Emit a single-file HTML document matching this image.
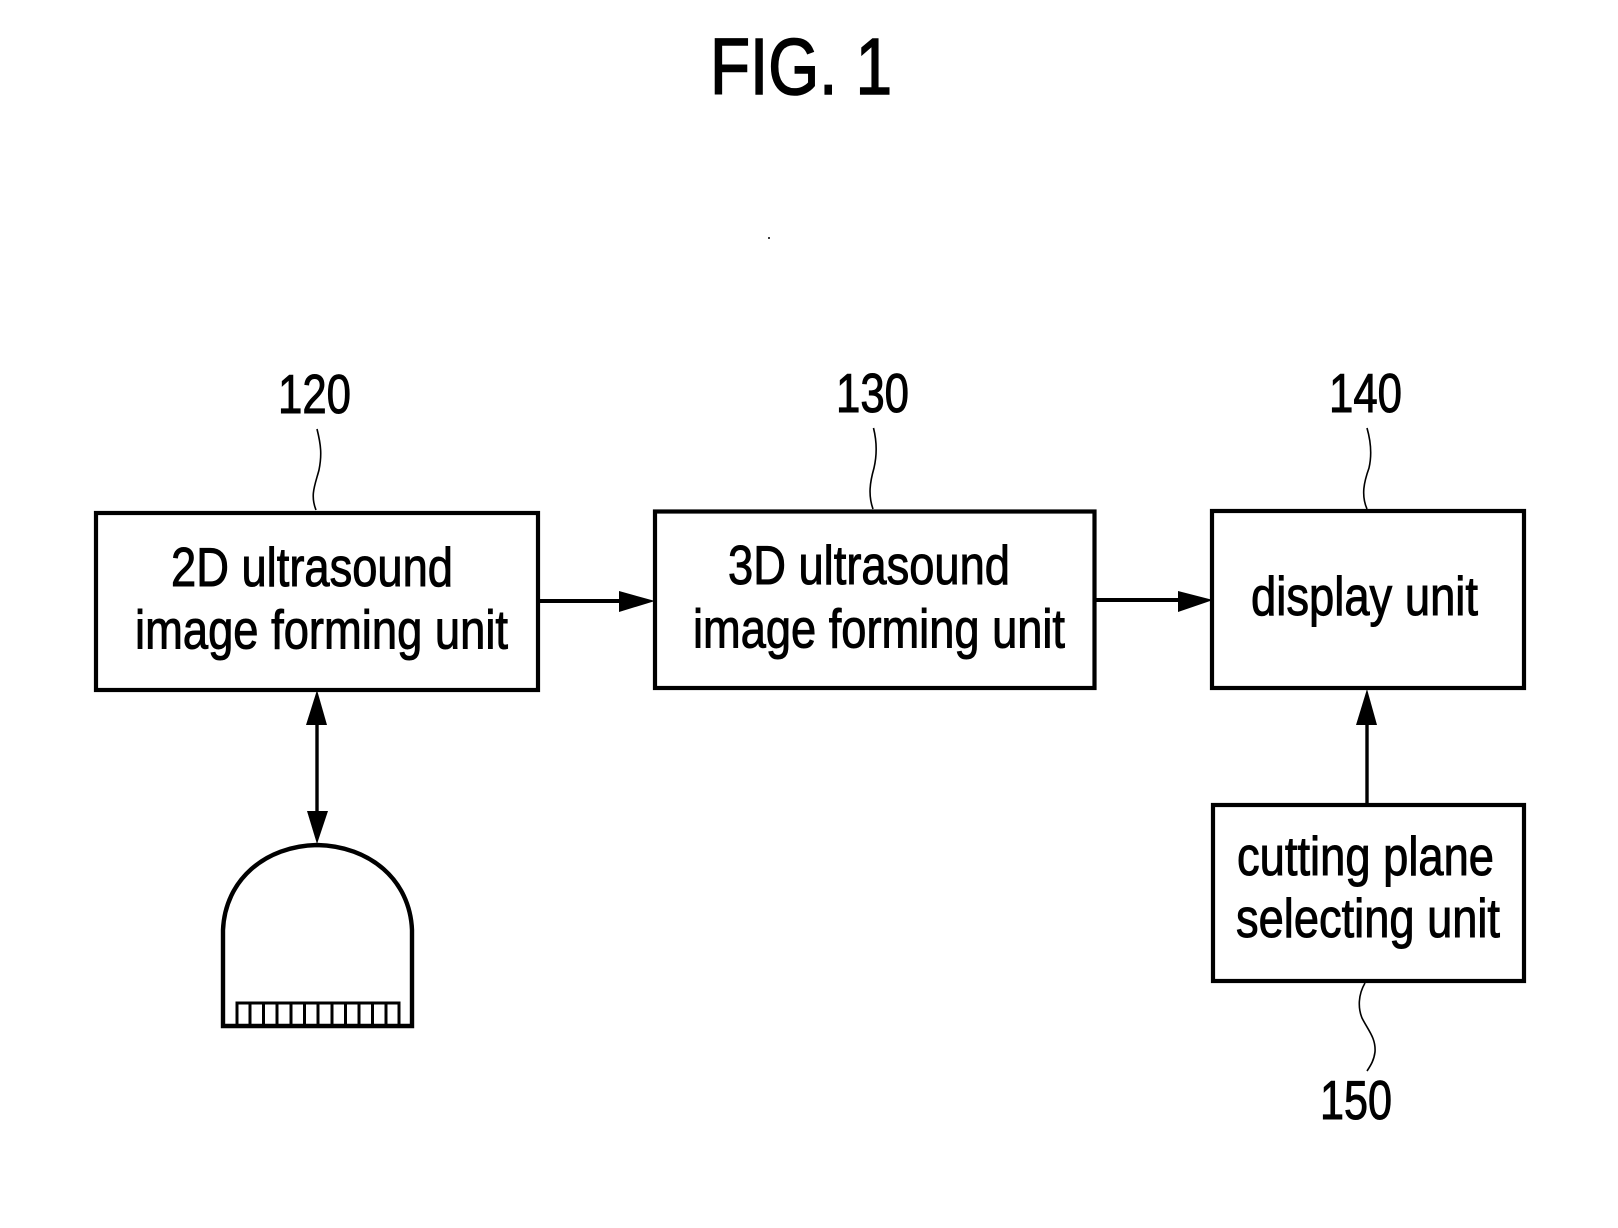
<!DOCTYPE html>
<html>
<head>
<meta charset="utf-8">
<style>
html,body{margin:0;padding:0;background:#fff;width:1618px;height:1228px;overflow:hidden}
svg{display:block}
text{font-family:"Liberation Sans",sans-serif;fill:#000;stroke:#000;stroke-width:1px}
</style>
</head>
<body>
<svg width="1618" height="1228" viewBox="0 0 1618 1228" xmlns="http://www.w3.org/2000/svg">
<rect width="1618" height="1228" fill="#fff"/>
<text x="710" y="94" font-size="80" textLength="182" lengthAdjust="spacingAndGlyphs" style="stroke-width:1.6px">FIG. 1</text>
<circle cx="769" cy="238" r="1" fill="#000"/>

<g font-size="55">
<text x="278" y="413" textLength="73" lengthAdjust="spacingAndGlyphs">120</text>
<text x="836" y="412" textLength="73" lengthAdjust="spacingAndGlyphs">130</text>
<text x="1329" y="412" textLength="73" lengthAdjust="spacingAndGlyphs">140</text>
<text x="1320" y="1119" textLength="72" lengthAdjust="spacingAndGlyphs">150</text>
<text x="171" y="586" textLength="282" lengthAdjust="spacingAndGlyphs">2D ultrasound</text>
<text x="135" y="648.500" textLength="373" lengthAdjust="spacingAndGlyphs">image forming unit</text>
<text x="728" y="584" textLength="282" lengthAdjust="spacingAndGlyphs">3D ultrasound</text>
<text x="693" y="647.500" textLength="372" lengthAdjust="spacingAndGlyphs">image forming unit</text>
<text x="1251" y="615" textLength="227" lengthAdjust="spacingAndGlyphs">display unit</text>
<text x="1237" y="875" textLength="257" lengthAdjust="spacingAndGlyphs">cutting plane</text>
<text x="1236" y="937" textLength="264" lengthAdjust="spacingAndGlyphs">selecting unit</text>
</g>

<g fill="none" stroke="#000" stroke-width="4.2">
<rect x="96" y="513" width="442" height="177"/>
<rect x="655" y="511.500" width="445" height="176.500" style="display:none"/>
<rect x="655" y="511.500" width="446" height="176.500" style="display:none"/>
<rect x="655" y="511.500" width="445" height="176.500" style="display:none"/>
<rect x="655" y="511.500" width="0" height="0" style="display:none"/>
<rect x="655" y="511.500" width="439.500" height="176.500"/>
<rect x="1212" y="511" width="312" height="177"/>
<rect x="1213" y="805" width="311" height="176"/>
</g>

<g fill="none" stroke="#000" stroke-width="1.6">
<path d="M317 429 C321 445 322 455 319 470 C315 485 310 495 316 510"/>
<path d="M873.500 428 C877 442 877 455 874 468 C870 482 868 495 873 509"/>
<path d="M1367 428 C1371 442 1372 455 1369 468 C1364 482 1361 495 1367 509"/>
<path d="M1365 983 C1358 995 1358 1008 1362 1018 C1368 1030 1376 1038 1375 1052 C1374 1060 1371 1065 1367 1071"/>
</g>

<g stroke="#000" stroke-width="4">
<line x1="540" y1="601" x2="625" y2="601"/>
<line x1="1096" y1="600" x2="1185" y2="600"/>
<line x1="317" y1="720" x2="317" y2="815" stroke-width="3.4"/>
<line x1="1367" y1="803" x2="1367" y2="720" stroke-width="3.4"/>
</g>
<g fill="#000">
<polygon points="619,591 655,601 619,612"/>
<polygon points="1178,591 1213,600 1178,612"/>
<polygon points="317,690 327,725 306,725"/>
<polygon points="307,811 328,811 317,844"/>
<polygon points="1367,689 1377,725 1356,725"/>
</g>

<path d="M223 1026 V930 C225 880 265 846 317 845 C370 846 410 880 412 930 V1026 Z" fill="none" stroke="#000" stroke-width="4.4"/>
<g fill="none" stroke="#000" stroke-width="3">
<path d="M237 1026 V1003 H399 V1026"/>
<path d="M250 1003V1026M263.500 1003V1026M277 1003V1026M291 1003V1026M304.500 1003V1026M318 1003V1026M332 1003V1026M345.500 1003V1026M359 1003V1026M372.500 1003V1026M386 1003V1026"/>
</g>
</svg>
</body>
</html>
